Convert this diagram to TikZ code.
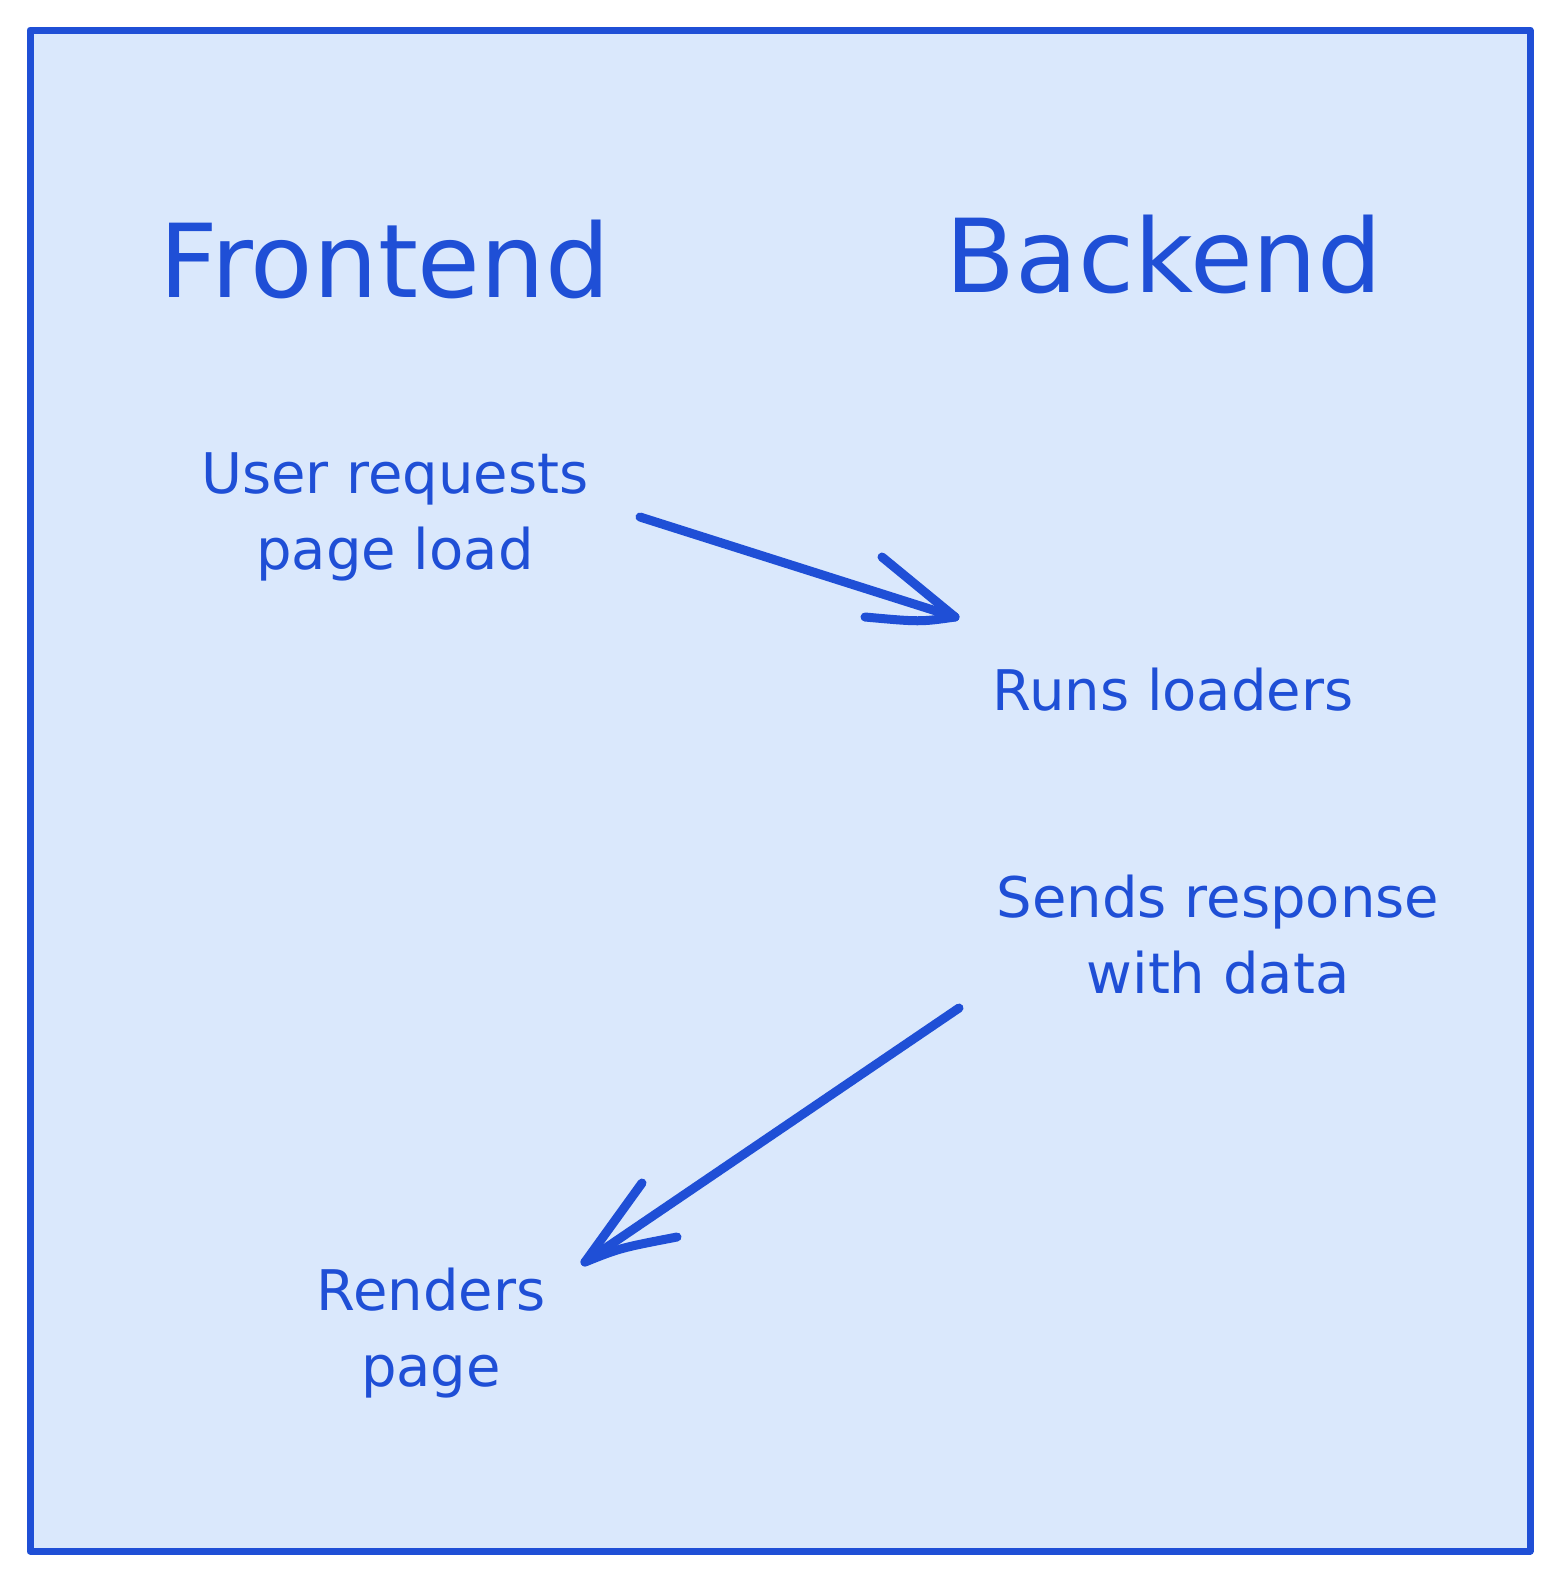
\documentclass[tikz,border=0pt]{standalone}
\usepackage{fontspec}
\setmainfont{DejaVu Sans}
\definecolor{ink}{HTML}{1F4FD6}
\definecolor{paper}{HTML}{DAE8FC}
\tikzset{
  frame/.style={draw=ink, fill=paper, line width=7pt, line join=round},
  title/.style={text=ink, anchor=base, inner sep=0pt, font=\fontsize{102}{110}\selectfont},
  label/.style={text=ink, anchor=base, inner sep=0pt, align=center, font=\fontsize{56}{76}\selectfont},
  arrowline/.style={draw=ink, line width=9pt, line cap=round, line join=round},
}
\begin{document}
\begin{tikzpicture}[x=1pt,y=-1pt]
\useasboundingbox (0,0) rectangle (1560,1580);
\draw[frame] (30,30) rectangle (1530,1551);

\node[title] (front) at (385,297) {Frontend};
\node[title] (back) at (1164,292) {Backend};

% base anchor of a two-line node is the baseline of its last line
\node[label] (req) at (395,569) {User requests\\page load};
\node[label] (run) at (1173,710) {Runs loaders};
\node[label] (send) at (1218,993) {Sends response\\with data};
\node[label] (rend) at (431,1386) {Renders\\page};

\coordinate (a1s) at (640,517);
\coordinate (a1e) at (955,617);
\coordinate (a2s) at (959,1008);
\coordinate (a2e) at (585,1262);

\draw[arrowline] (a1s) -- (a1e);
\draw[arrowline] (a1e) -- (882,557);
\draw[arrowline] (a1e) .. controls (920,622) .. (865,617);

\draw[arrowline] (a2s) -- (a2e);
\draw[arrowline] (a2e) -- (642,1183);
\draw[arrowline] (a2e) .. controls (620,1248) .. (677,1237);
\end{tikzpicture}
\end{document}
